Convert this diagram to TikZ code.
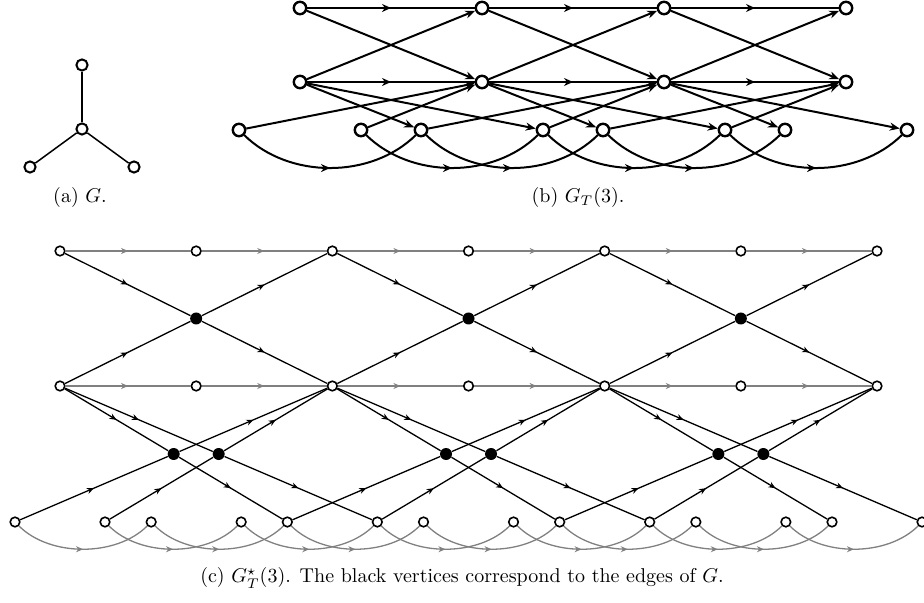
\documentclass[tikz,border=0pt]{standalone}
\usepackage{amsmath,amssymb}
\usetikzlibrary{arrows.meta,calc,decorations.markings}

\tikzset{
  avert/.style={circle,draw,fill=white,line width=1pt,inner sep=0pt,minimum size=5.6pt},
  bigv/.style={circle,draw,fill=white,line width=1.2pt,inner sep=0pt,minimum size=6.2pt},
  wv/.style={circle,draw,fill=white,line width=0.8pt,inner sep=0pt,minimum size=4.8pt},
  bv/.style={circle,fill=black,inner sep=0pt,minimum size=6pt},
  bedge/.style={line width=1pt},
  cedge/.style={line width=0.65pt},
  gedge/.style={line width=0.65pt,gray},
  endarr/.style={-{Stealth[length=5pt,width=4pt]}},
  midarr/.style={postaction={decorate},decoration={markings,
      mark=at position .5 with {\arrow{Stealth[length=3.5pt,width=3pt]}}}},
  midarrb/.style={postaction={decorate},decoration={markings,
      mark=at position .5 with {\arrow{Stealth[length=4.5pt,width=4pt]}}}},
}

\begin{document}
\begin{tikzpicture}[x=0.5pt,y=-0.5pt]
  \useasboundingbox (0,0) rectangle (924,603);

  % (a) the graph G
  \node[avert] (gc) at (82,129) {};
  \node[avert] (gt) at (82,65) {};
  \node[avert] (gl) at (30,167) {};
  \node[avert] (gr) at (134,167) {};
  \draw[line width=0.75pt] (gc) -- (gt);
  \draw[line width=0.75pt] (gc) -- (gl);
  \draw[line width=0.75pt] (gc) -- (gr);
  \node (capa) at (80,198) {(a) $G$.};

  % (b) time expanded graph
  \foreach \i in {0,...,3}{
    \pgfmathsetmacro{\xx}{300+182*\i}
    \node[bigv] (bt\i) at (\xx,8) {};
    \node[bigv] (bm\i) at (\xx,82) {};
    \node[bigv] (bl\i) at (\xx-61,130) {};
    \node[bigv] (br\i) at (\xx+61,130) {};
  }
  \foreach \i/\j in {0/1,1/2,2/3}{
    \draw[bedge,midarrb] (bt\i) -- (bt\j);
    \draw[bedge,midarrb] (bm\i) -- (bm\j);
    \draw[bedge,endarr] (bt\i) -- (bm\j);
    \draw[bedge,endarr] (bm\i) -- (bt\j);
    \draw[bedge,endarr] (bm\i) -- (bl\j);
    \draw[bedge,endarr] (bm\i) -- (br\j);
    \draw[bedge,endarr] (bl\i) -- (bm\j);
    \draw[bedge,endarr] (br\i) -- (bm\j);
    \draw[bedge,midarrb] (bl\i) .. controls +(50,49) and +(-50,49) .. (bl\j);
    \draw[bedge,midarrb] (br\i) .. controls +(50,49) and +(-50,49) .. (br\j);
  }
  \node (capb) at (578,198) {(b) $G_T(3)$.};

  % (c) with edge vertices
  \foreach \s in {0,...,6}{
    \pgfmathsetmacro{\xx}{60+136.17*\s}
    \node[wv] (t\s) at (\xx,251) {};
    \node[wv] (m\s) at (\xx,386) {};
    \node[wv] (l\s) at (\xx-45,522) {};
    \node[wv] (r\s) at (\xx+45,522) {};
  }
  \foreach \s/\n in {0/1,1/2,2/3,3/4,4/5,5/6}{
    \draw[gedge,midarr] (t\s) -- (t\n);
    \draw[gedge,midarr] (m\s) -- (m\n);
    \draw[gedge,midarr] (l\s) .. controls +(35,35) and +(-35,35) .. (l\n);
    \draw[gedge,midarr] (r\s) .. controls +(35,35) and +(-35,35) .. (r\n);
  }
  \foreach \s/\n in {0/2,2/4,4/6}{
    \node[bv] (et\s) at ($(t\s)!.5!(m\n)$) {};
    \node[bv] (el\s) at ($(m\s)!.5!(l\n)$) {};
    \node[bv] (er\s) at ($(m\s)!.5!(r\n)$) {};
    \draw[cedge,midarr] (t\s) -- (et\s);
    \draw[cedge,midarr] (et\s) -- (m\n);
    \draw[cedge,midarr] (m\s) -- (et\s);
    \draw[cedge,midarr] (et\s) -- (t\n);
    \draw[cedge,midarr] (m\s) -- (el\s);
    \draw[cedge,midarr] (el\s) -- (l\n);
    \draw[cedge,midarr] (l\s) -- (el\s);
    \draw[cedge,midarr] (el\s) -- (m\n);
    \draw[cedge,midarr] (m\s) -- (er\s);
    \draw[cedge,midarr] (er\s) -- (r\n);
    \draw[cedge,midarr] (r\s) -- (er\s);
    \draw[cedge,midarr] (er\s) -- (m\n);
  }
  \node (capc) at (462,578) {(c) $G^{\star}_T(3)$. The black vertices correspond to the edges of $G$.};
\end{tikzpicture}
\end{document}
